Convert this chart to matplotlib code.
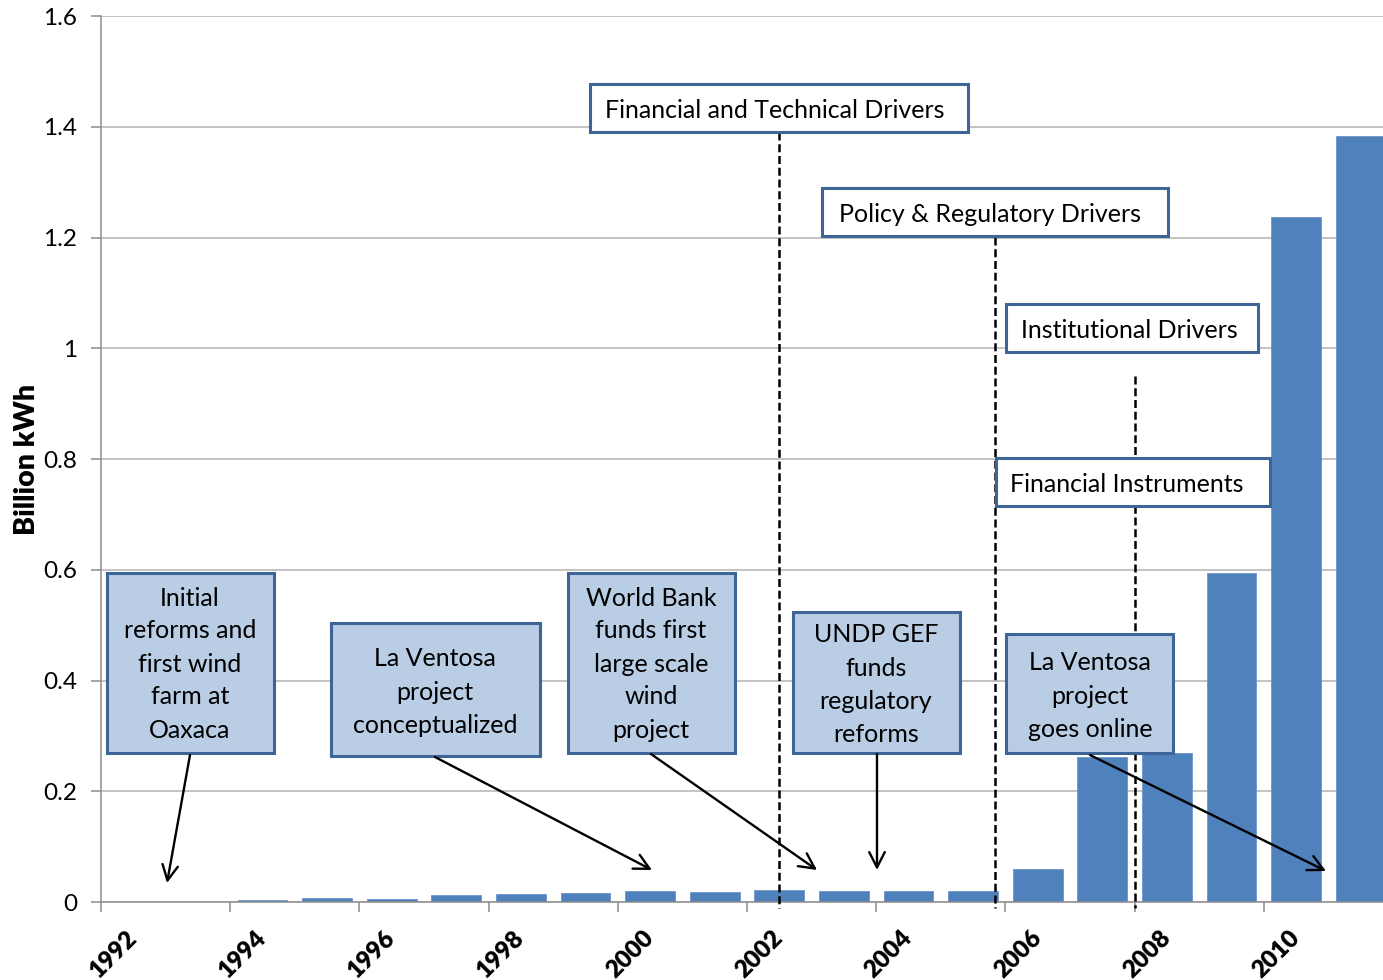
import matplotlib
matplotlib.use("Agg")
import matplotlib.pyplot as plt
from matplotlib.patches import Rectangle, FancyArrowPatch
from matplotlib.lines import Line2D

plt.rcParams['font.family'] = ['Lato', 'DejaVu Sans']

# ---- data ----
years = [1992, 1993, 1994, 1995, 1996, 1997, 1998, 1999, 2000, 2001,
         2002, 2003, 2004, 2005, 2006, 2007, 2008, 2009, 2010, 2011]
generation = [0.0, 0.0, 0.004, 0.007, 0.005, 0.013, 0.015, 0.017, 0.020, 0.018,
              0.021, 0.020, 0.020, 0.020, 0.059, 0.262, 0.269, 0.594, 1.237, 1.383]
yticks = [0, 0.2, 0.4, 0.6, 0.8, 1.0, 1.2, 1.4, 1.6]
ytick_labels = ["0", "0.2", "0.4", "0.6", "0.8", "1", "1.2", "1.4", "1.6"]

W, H = 1383, 980
fig = plt.figure(figsize=(W / 100, H / 100), dpi=100)
# axes spans x 101..1393 px (right part cropped), y 16..902 px
ax = fig.add_axes([101 / W, (H - 902) / H, 1292 / W, 886 / H])

BAR = '#4f81bd'
GRID = '#b3b3b3'
AX = '#8c8c8c'

idx = list(range(len(years)))
ax.bar(idx, generation, width=0.77, color=BAR, edgecolor='#6f96c8', linewidth=0.6, zorder=2)

ax.set_xlim(-0.5, len(years) - 0.5)
ax.set_ylim(0, 1.6)
ax.set_yticks(yticks)
ax.set_yticklabels(ytick_labels, fontsize=17.5)
ax.yaxis.grid(True, color=GRID, linewidth=1.1, zorder=0)
ax.set_axisbelow(True)

# major ticks at category boundaries every 2 years, labels at category centres
bounds = [i - 0.5 for i in range(0, len(years) + 1, 2)]
ax.set_xticks(bounds)
ax.set_xticklabels([''] * len(bounds))
centers = [i for i in range(0, len(years), 2)]
ax.set_xticks(centers, minor=True)
ax.set_xticklabels([str(years[i]) for i in centers], minor=True,
                   rotation=45, ha='right', va='center', rotation_mode='anchor',
                   fontsize=17.5, fontweight='heavy')
ax.tick_params(axis='x', which='minor', length=0, pad=23)
ax.tick_params(axis='x', which='major', length=7, color=AX, width=1.1, direction='out')
ax.tick_params(axis='y', length=7, color=AX, width=1.1, direction='out', pad=10)

for s in ['top', 'right']:
    ax.spines[s].set_visible(False)
for s in ['left', 'bottom']:
    ax.spines[s].set_color(AX)
    ax.spines[s].set_linewidth(1.1)

ax.set_ylabel('Billion kWh', fontsize=20.5, fontweight='heavy')
ax.yaxis.set_label_coords((40 - 101) / 1292, 0.5)

# ---- annotations (figure pixel helpers) ----
def fx(px):
    return px / W

def fy(py):
    return 1 - py / H

EDGE = '#3d6598'
FILL = '#b9cde5'
FS = 18


def dashed(x, y0, y1):
    fig.add_artist(Line2D([fx(x), fx(x)], [fy(y0), fy(y1)], transform=fig.transFigure,
                          color='black', linewidth=1.8, dashes=(3.2, 1.5), zorder=5))


def box(x0, y0, x1, y1, fill):
    fig.add_artist(Rectangle((fx(x0), fy(y1)), fx(x1) - fx(x0), fy(y0) - fy(y1),
                             transform=fig.transFigure, facecolor=fill, edgecolor=EDGE,
                             linewidth=2.2, zorder=6))


def lines_text(cx, ys, texts):
    for yy, t in zip(ys, texts):
        fig.text(fx(cx), fy(yy), t, ha='center', va='center', fontsize=FS, zorder=7)


def arrow(x0, y0, x1, y1):
    fig.add_artist(FancyArrowPatch((fx(x0), fy(y0)), (fx(x1), fy(y1)),
                                   transform=fig.transFigure,
                                   arrowstyle='->,head_length=0.55,head_width=0.28',
                                   mutation_scale=20,
                                   color='black', linewidth=1.7, zorder=8,
                                   shrinkA=0, shrinkB=0))


# dashed separators
dashed(779, 132, 908)
dashed(995, 237, 908)
dashed(1135, 376, 908)

# driver boxes
box(590, 84, 968, 132, 'white')
fig.text(fx(605), fy(110), 'Financial and Technical Drivers', ha='left', va='center', fontsize=FS, zorder=7)
box(822, 188, 1168, 236, 'white')
fig.text(fx(839), fy(214), 'Policy & Regulatory Drivers', ha='left', va='center', fontsize=FS, zorder=7)
box(1006, 304, 1258, 352, 'white')
fig.text(fx(1021), fy(330), 'Institutional Drivers', ha='left', va='center', fontsize=FS, zorder=7)
box(996, 458, 1270, 506, 'white')
fig.text(fx(1010), fy(484), 'Financial Instruments', ha='left', va='center', fontsize=FS, zorder=7)

# event boxes
box(107, 573, 274, 753, FILL)
lines_text(190, [598, 631, 664, 697, 730], ['Initial', 'reforms and', 'first wind', 'farm at', 'Oaxaca'])
box(331, 623, 540, 756, FILL)
lines_text(435, [659, 692, 725], ['La Ventosa', 'project', 'conceptualized'])
box(568, 573, 735, 753, FILL)
lines_text(651, [598, 631, 664, 697, 730], ['World Bank', 'funds first', 'large scale', 'wind', 'project'])
box(793, 612, 960, 753, FILL)
lines_text(876, [635, 668, 701, 734], ['UNDP GEF', 'funds', 'regulatory', 'reforms'])
box(1006, 634, 1173, 753, FILL)
lines_text(1090, [663, 696, 729], ['La Ventosa', 'project', 'goes online'])

# arrows
arrow(190, 755, 167, 883)
arrow(435, 757, 652, 870)
arrow(651, 754, 817, 870)
arrow(877, 754, 877, 870)
arrow(1090, 755, 1326, 871)

fig.savefig('out.png', dpi=100)
